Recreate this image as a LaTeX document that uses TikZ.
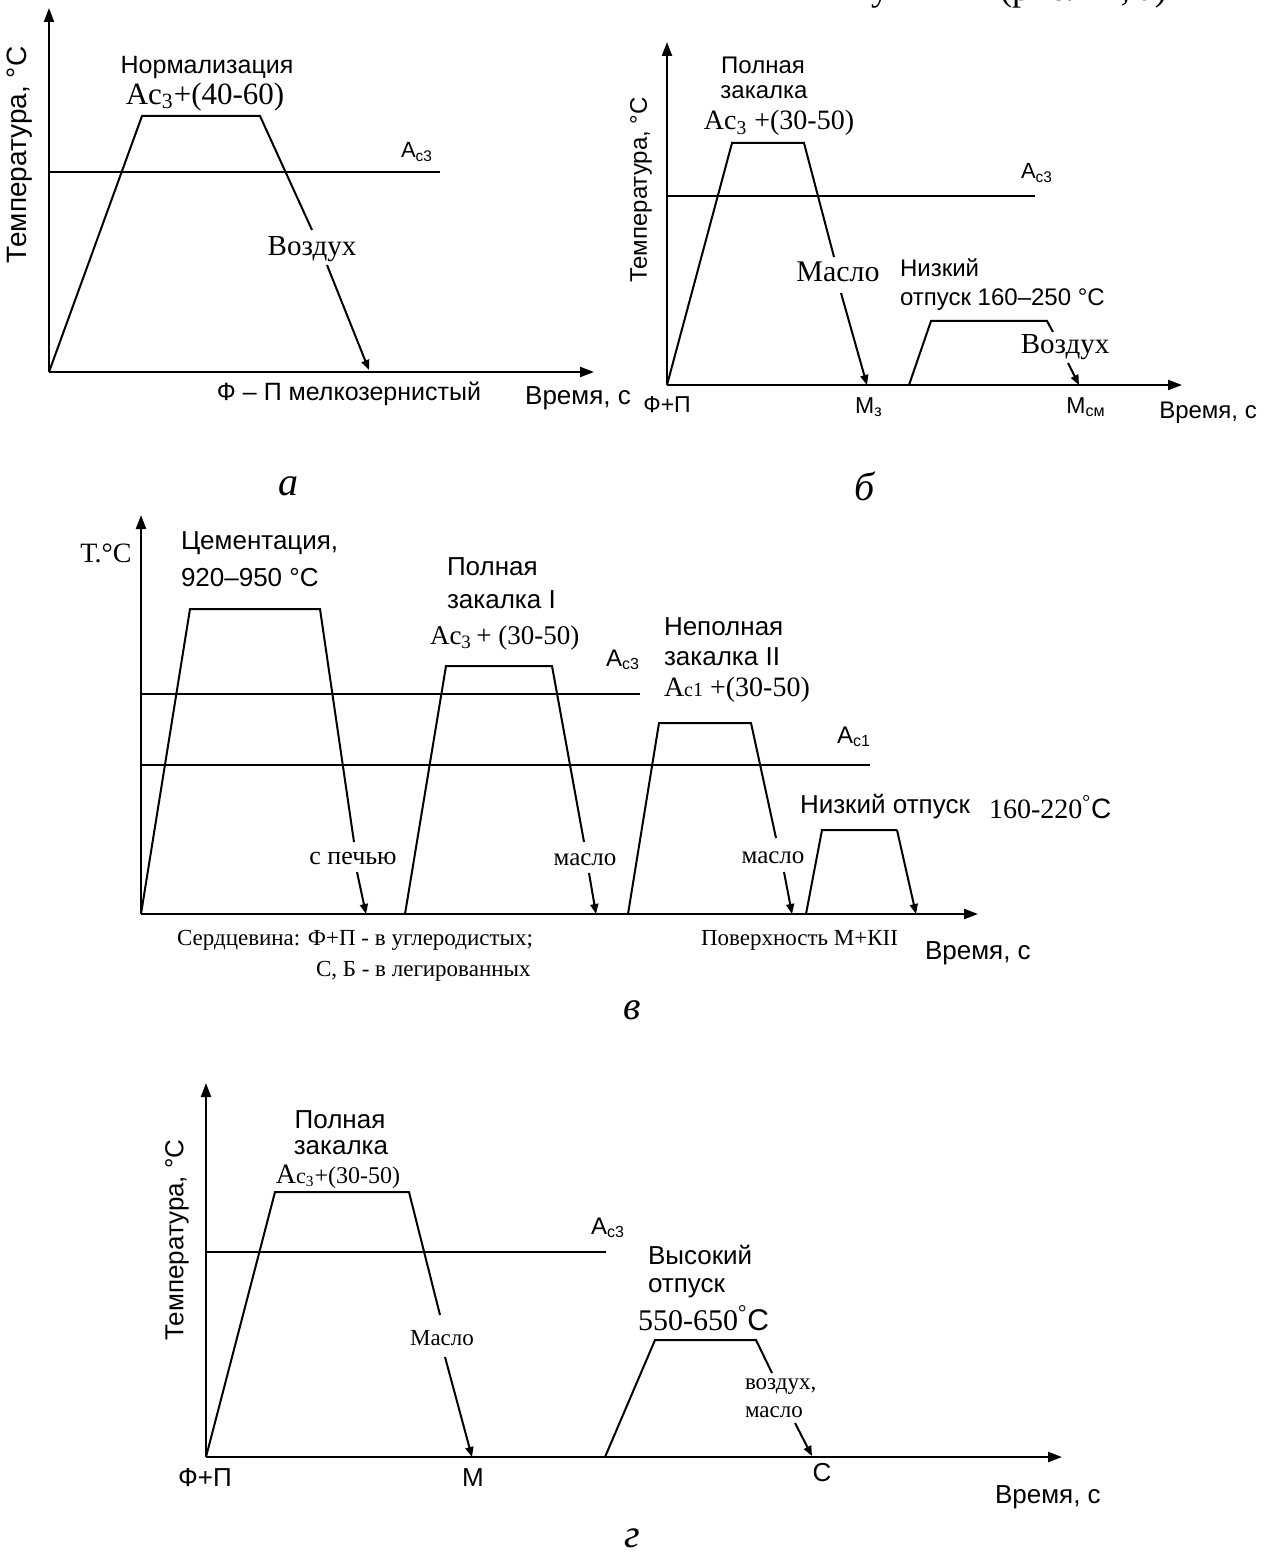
\documentclass[tikz,border=0pt]{standalone}
\usepackage{fontspec}
\setmainfont{Liberation Serif}
\setsansfont{Liberation Sans}
\usetikzlibrary{arrows.meta}
\newcommand{\fsz}[1]{\fontsize{#1}{#1}\selectfont}
\begin{document}
\begin{tikzpicture}[x=0.5pt,y=-0.5pt,
  ax/.style={line width=1.1pt,-{Triangle[length=7pt,width=5pt]}},
  ln/.style={line width=1pt},
  cl/.style={line width=1pt,-{Triangle[length=5pt,width=4pt]}},
  tx/.style={inner sep=0pt,outer sep=0pt},
  sa/.style={tx,font=\sffamily\fsz{#1}},
  se/.style={tx,font=\fsz{#1}},
  lt/.style={tx,font=\itshape\fsz{20pt}}]
\useasboundingbox (0,0) rectangle (1265,1556);

% fragment of the line above (clipped)
\begin{scope}
\clip (0,0) rectangle (1265,14);
\node[se=18pt,anchor=base] (fr1) at (880,1) {у};
\node[se=18pt,anchor=base west] (fr2) at (1000,1) {(рис. 11, а)};
\end{scope}

% ================= panel a =================
\coordinate (a0) at (49,372);
\coordinate (aYt) at (49,8);
\coordinate (aXt) at (594,372);
\draw[ax] (a0) -- (aYt);
\draw[ax] (a0) -- (aXt);
\coordinate (aL1) at (49,172); \coordinate (aL2) at (440,172);
\draw[ln] (aL1) -- (aL2);
\coordinate (ap1) at (142,116); \coordinate (ap2) at (260,116); \coordinate (ap3) at (312,230);
\draw[ln] (a0) -- (ap1) -- (ap2) -- (ap3);
\coordinate (aa1) at (327,265); \coordinate (aa2) at (369,370);
\draw[cl] (aa1) -- (aa2);
\node[sa=12.5pt] (aN) at (207,67) {Нормализация};
\node[se=15.5pt] (aAc) at (205,97) {Ac\textsubscript{3}+(40-60)};
\node[sa=11pt] (aA3) at (417,152) {A\textsubscript{c3}};
\node[se=14.5pt] (aV) at (312,249) {Воздух};
\node[sa=12.5pt] (aF) at (349,394) {Ф – П мелкозернистый};
\node[sa=13pt] (aT) at (578,398) {Время, с};
\node[sa=14pt,rotate=90] (aY) at (20,155) {Температура, °С};
\node[lt] (alet) at (288,486) {а};

% ================= panel b =================
\coordinate (b0) at (667,385);
\coordinate (bYt) at (667,42);
\coordinate (bXt) at (1182,385);
\draw[ax] (b0) -- (bYt);
\draw[ax] (b0) -- (bXt);
\coordinate (bL1) at (667,196); \coordinate (bL2) at (1035,196);
\draw[ln] (bL1) -- (bL2);
\coordinate (bp1) at (732,143); \coordinate (bp2) at (804,143); \coordinate (bp3) at (834,257);
\draw[ln] (b0) -- (bp1) -- (bp2) -- (bp3);
\coordinate (ba1) at (841,293); \coordinate (ba2) at (867,385);
\draw[cl] (ba1) -- (ba2);
\coordinate (bt0) at (909,385); \coordinate (bt1) at (931,321); \coordinate (bt2) at (1047,321); \coordinate (bt3) at (1053,332);
\draw[ln] (bt0) -- (bt1) -- (bt2) -- (bt3);
\coordinate (bb1) at (1068,363); \coordinate (bb2) at (1079,385);
\draw[cl] (bb1) -- (bb2);
\node[sa=12pt] (bP) at (763,65) {Полная};
\node[sa=12pt] (bZ) at (764,92) {закалка};
\node[se=14pt] (bAc) at (779,123) {Ac\textsubscript{3} +(30-50)};
\node[sa=11pt] (bA3) at (1037,173) {A\textsubscript{c3}};
\node[se=15pt] (bM) at (838,272) {Масло};
\node[sa=12pt,anchor=west] (bN) at (900,268) {Низкий};
\node[sa=12pt,anchor=west] (bO) at (900,300) {отпуск 160–250 °С};
\node[se=14.5pt] (bV) at (1065,347) {Воздух};
\node[sa=11.5pt] (bF) at (667,405) {Ф+П};
\node[sa=11.5pt] (bMz) at (869,407) {М\textsubscript{з}};
\node[sa=11.5pt] (bMs) at (1086,407) {М\textsubscript{см}};
\node[sa=12pt] (bT) at (1208,413) {Время, с};
\node[sa=12pt,rotate=90] (bY) at (641,190) {Температура, °С};
\node[lt] (blet) at (865,486) {б};

% ================= panel c =================
\coordinate (c0) at (141,914);
\coordinate (cYt) at (141,515);
\coordinate (cXt) at (978,914);
\draw[ax] (c0) -- (cYt);
\draw[ax] (c0) -- (cXt);
\coordinate (cL1) at (141,694); \coordinate (cL2) at (640,694);
\draw[ln] (cL1) -- (cL2);
\coordinate (cK1) at (141,765); \coordinate (cK2) at (870,765);
\draw[ln] (cK1) -- (cK2);
% cementation
\coordinate (cp1) at (190,609); \coordinate (cp2) at (320,609); \coordinate (cp3) at (354,842);
\draw[ln] (c0) -- (cp1) -- (cp2) -- (cp3);
\coordinate (ca1) at (357,872); \coordinate (ca2) at (366,914);
\draw[cl] (ca1) -- (ca2);
% full quench I
\coordinate (cq0) at (405,914); \coordinate (cq1) at (446,666); \coordinate (cq2) at (552,666); \coordinate (cq3) at (584,842);
\draw[ln] (cq0) -- (cq1) -- (cq2) -- (cq3);
\coordinate (cb1) at (589,873); \coordinate (cb2) at (596,914);
\draw[cl] (cb1) -- (cb2);
% incomplete quench II
\coordinate (cr0) at (628,914); \coordinate (cr1) at (659,723); \coordinate (cr2) at (751,723); \coordinate (cr3) at (776,838);
\draw[ln] (cr0) -- (cr1) -- (cr2) -- (cr3);
\coordinate (cc1) at (784,872); \coordinate (cc2) at (792,914);
\draw[cl] (cc1) -- (cc2);
% low temper
\coordinate (ct0) at (806,914); \coordinate (ct1) at (822,830); \coordinate (ct2) at (897,830); \coordinate (ct3) at (916,914);
\draw[ln] (ct0) -- (ct1) -- (ct2);
\draw[cl] (ct2) -- (ct3);
\node[se=14pt] (cTT) at (106,553) {Т.°С};
\node[sa=13pt,anchor=west] (cCe) at (181,543) {Цементация,};
\node[sa=13pt,anchor=west] (cCt) at (181,578) {920–950 °С};
\node[sa=13pt,anchor=west] (cP) at (447,567) {Полная};
\node[sa=13pt,anchor=west] (cZ) at (447,600) {закалка I};
\node[se=13.5pt,anchor=west] (cAc) at (430,638) {Ac\textsubscript{3}\,+ (30-50)};
\node[sa=12pt] (cA3) at (623,660) {A\textsubscript{c3}};
\node[sa=13pt,anchor=west] (cNp) at (664,627) {Неполная};
\node[sa=13pt,anchor=west] (cZ2) at (664,657) {закалка II};
\node[se=14pt,anchor=west] (cAc1) at (664,690) {A{\fsz{10pt}c1} +(30-50)};
\node[sa=12pt] (cA1) at (854,737) {A\textsubscript{c1}};
\node[sa=13pt,anchor=west] (cNo) at (800,807) {Низкий отпуск};
\node[se=14pt,anchor=west] (cT2) at (989,807) {160-220\textsuperscript{°}\textsf{C}};
\node[se=13pt] (cS) at (353,858) {с печью};
\node[se=12.5pt] (cM1) at (585,860) {масло};
\node[se=12.5pt] (cM2) at (773,858) {масло};
\node[se=11.5pt,anchor=west] (cSe) at (177,940) {Сердцевина: Ф+П - в углеродистых;};
\node[se=11.5pt,anchor=west] (cSb) at (316,971) {С, Б - в легированных};
\node[se=11.5pt,anchor=west] (cPo) at (701,940) {Поверхность М+КII};
\node[sa=13pt,anchor=west] (cT) at (925,953) {Время, с};
\node[lt] (clet) at (632,1010) {в};

% ================= panel d =================
\coordinate (d0) at (206,1457);
\coordinate (dYt) at (206,1083);
\coordinate (dXt) at (1062,1457);
\draw[ax] (d0) -- (dYt);
\draw[ax] (d0) -- (dXt);
\coordinate (dL1) at (206,1252); \coordinate (dL2) at (606,1252);
\draw[ln] (dL1) -- (dL2);
\coordinate (dp1) at (275,1192); \coordinate (dp2) at (409,1192); \coordinate (dp3) at (440,1315);
\draw[ln] (d0) -- (dp1) -- (dp2) -- (dp3);
\coordinate (da1) at (445,1357); \coordinate (da2) at (472,1457);
\draw[cl] (da1) -- (da2);
\coordinate (dt0) at (605,1457); \coordinate (dt1) at (655,1340); \coordinate (dt2) at (756,1340); \coordinate (dt3) at (772,1373);
\draw[ln] (dt0) -- (dt1) -- (dt2) -- (dt3);
\coordinate (db1) at (795,1423); \coordinate (db2) at (812,1456);
\draw[cl] (db1) -- (db2);
\node[sa=13pt] (dP) at (340,1120) {Полная};
\node[sa=13pt] (dZ) at (341,1148) {закалка};
\node[se=14pt] (dAc) at (338,1177) {A{\fsz{11pt}c\textsubscript{3}}{\fsz{12pt}+(30-50)}};
\node[sa=12pt] (dA3) at (608,1228) {A\textsubscript{c3}};
\node[se=11.5pt] (dM) at (442,1338) {Масло};
\node[sa=13pt,rotate=90] (dY) at (177,1240) {Температура, °С};
\node[sa=13pt] (dF) at (205,1478) {Ф+П};
\node[sa=13pt] (dMM) at (473,1478) {М};
\node[sa=13pt,anchor=west] (dV) at (648,1255) {Высокий};
\node[sa=13pt,anchor=west] (dO) at (648,1288) {отпуск};
\node[se=15pt,anchor=west] (dT2) at (638,1318) {550-650\textsuperscript{°}\textsf{C}};
\node[se=11.5pt,anchor=west] (dVo) at (745,1387) {воздух,};
\node[se=11.5pt,anchor=west] (dMa) at (745,1412) {масло};
\node[sa=13pt] (dC) at (822,1473) {С};
\node[sa=13pt,anchor=west] (dT) at (995,1497) {Время, с};
\node[lt] (dlet) at (632,1538) {г};
\end{tikzpicture}
\end{document}
